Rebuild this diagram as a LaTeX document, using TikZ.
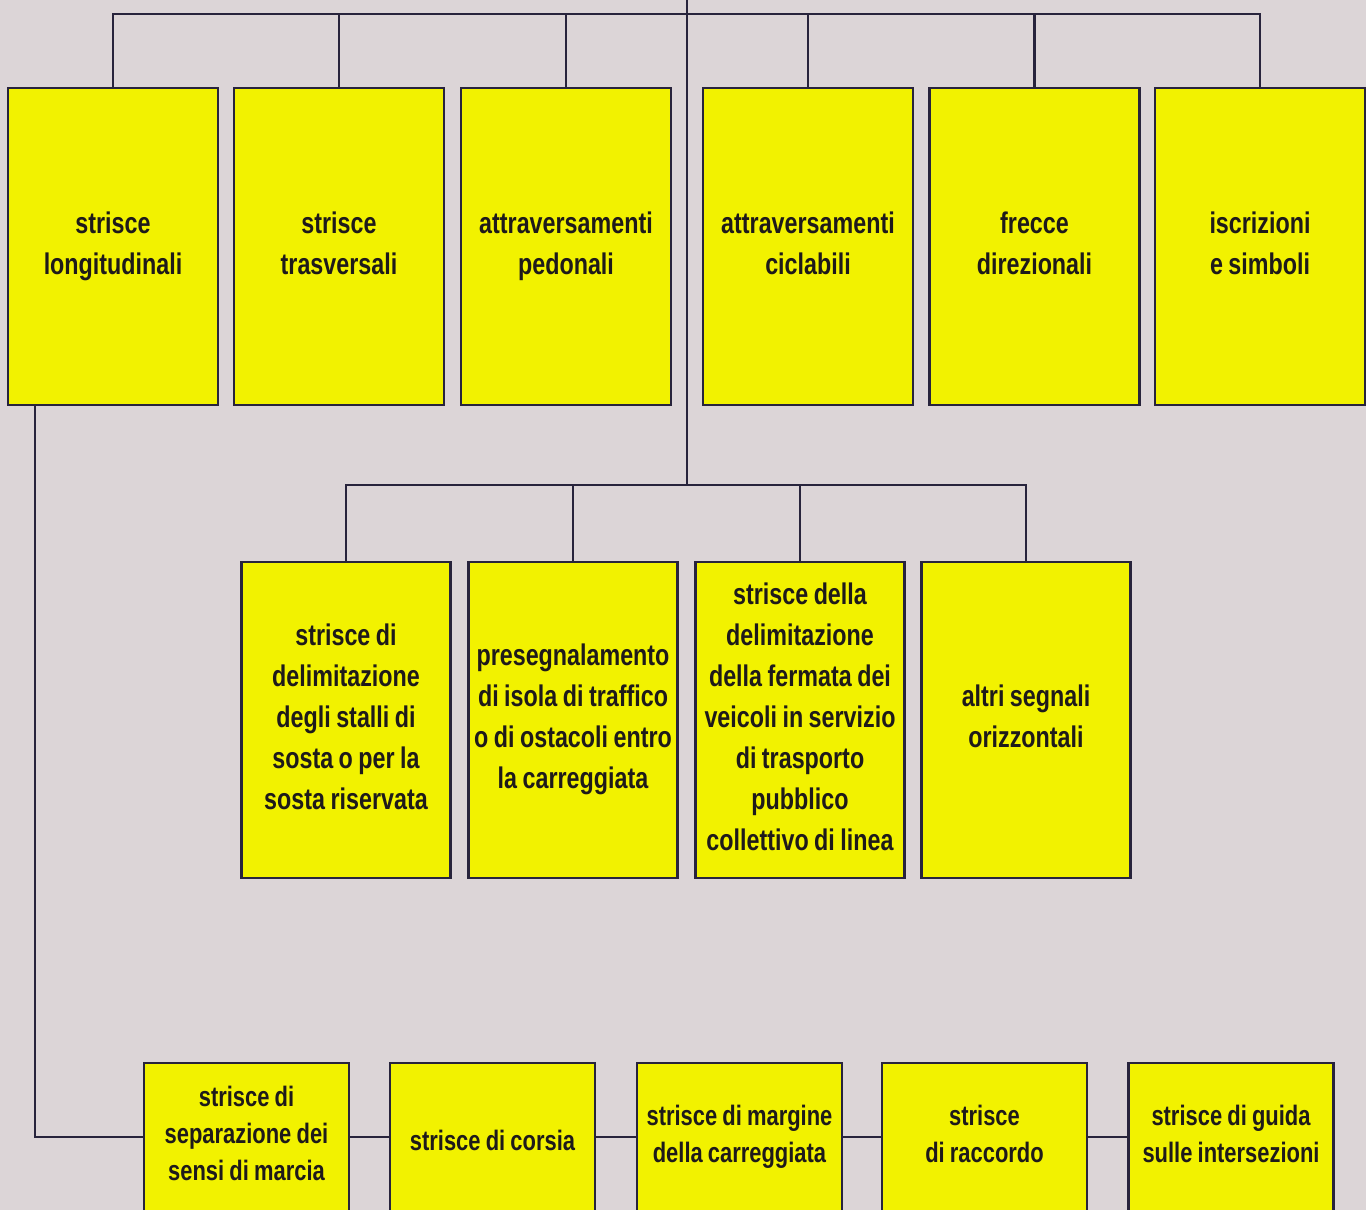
\documentclass[tikz,border=0pt]{standalone}
\usepackage{fontspec}
\setmainfont{Liberation Sans}[FakeStretch=0.78,WordSpace=0.85]
\usetikzlibrary{positioning}

\definecolor{paper}{RGB}{220,213,215}
\definecolor{signyellow}{RGB}{242,242,0}
\definecolor{inkline}{RGB}{40,36,60}
\definecolor{inktext}{RGB}{30,26,26}

\newcommand{\topstrut}{\rule{0pt}{19pt}}
\newcommand{\botstrut}{\rule[-4pt]{0pt}{4pt}}

\tikzset{
    signbox/.style={draw=inkline, line width=1.4pt, fill=signyellow, align=center,
        inner sep=0pt, text=inktext, font=\bfseries\fontsize{17}{23.3}\selectfont,
        execute at begin node=\topstrut, execute at end node=\botstrut},
    topbox/.style={signbox, minimum width=4.2cm, minimum height=6.34cm},
    midbox/.style={signbox, minimum width=4.18cm, minimum height=6.32cm},
    lowbox/.style={signbox, minimum width=4.1cm, minimum height=2.96cm,
        font=\bfseries\fontsize{16}{21}\selectfont},
    link/.style={draw=inkline, line width=1.4pt}
}

\begin{document}
\begin{tikzpicture}[x=0.02cm, y=-0.02cm]

    \useasboundingbox (0,0) rectangle (1366,1210);
    \clip (0,0) rectangle (1366,1210);
    \fill[paper] (0,0) rectangle (1366,1210);

    %% First level
    \coordinate (root) at (687,0);
    \coordinate (topbar) at (687,14);
    \coordinate (midbar) at (687,485);

    \node[topbox] (long)   at (113,246.5)  {strisce\\longitudinali};
    \node[topbox] (trasv)  at (339,246.5)  {strisce\\trasversali};
    \node[topbox] (pedon)  at (566,246.5)  {attraversamenti\\pedonali};
    \node[topbox] (cicl)   at (808,246.5)  {attraversamenti\\ciclabili};
    \node[topbox] (frecce) at (1034.5,246.5) {frecce\\direzionali};
    \node[topbox] (simb)   at (1260,246.5) {iscrizioni\\e simboli};

    % Bar on top
    \draw[link] (root) -- (midbar);
    \draw[link] (long.north) |- (topbar) -| (simb.north);
    \foreach \n in {trasv,pedon,cicl,frecce}
        \draw[link] (\n.north) |- (topbar);

    %% Second level
    \node[midbox] (stalli)  at (346,720)  {strisce di\\delimitazione\\degli stalli di\\sosta o per la\\sosta riservata};
    \node[midbox] (isola)   at (573,720)  {presegnalamento\\di isola di traffico\\o di ostacoli entro\\la carreggiata};
    \node[midbox] (fermata) at (800,720)  {strisce della\\delimitazione\\della fermata dei\\veicoli in servizio\\di trasporto\\pubblico\\collettivo di linea};
    \node[midbox] (altri)   at (1026,720) {altri segnali\\orizzontali};

    \draw[link] (stalli.north) |- (midbar) -| (altri.north);
    \foreach \n in {isola,fermata}
        \draw[link] (\n.north) |- (midbar);

    %% Longitudinal stripes
    \node[lowbox] (sep)      at (246.5,1137) {strisce di\\separazione dei\\sensi di marcia};
    \node[lowbox] (corsia)   at (492.5,1137) {strisce di corsia};
    \node[lowbox] (margine)  at (739.5,1137) {strisce di margine\\della carreggiata};
    \node[lowbox] (raccordo) at (984.5,1137) {strisce\\di raccordo};
    \node[lowbox] (guida)    at (1231,1137)  {strisce di guida\\sulle intersezioni};

    \draw[link] ([xshift=0.56cm]long.south west) |- (sep.west);
    \draw[link] (sep) -- (corsia);
    \draw[link] (corsia) -- (margine);
    \draw[link] (margine) -- (raccordo);
    \draw[link] (raccordo) -- (guida);

\end{tikzpicture}
\end{document}
